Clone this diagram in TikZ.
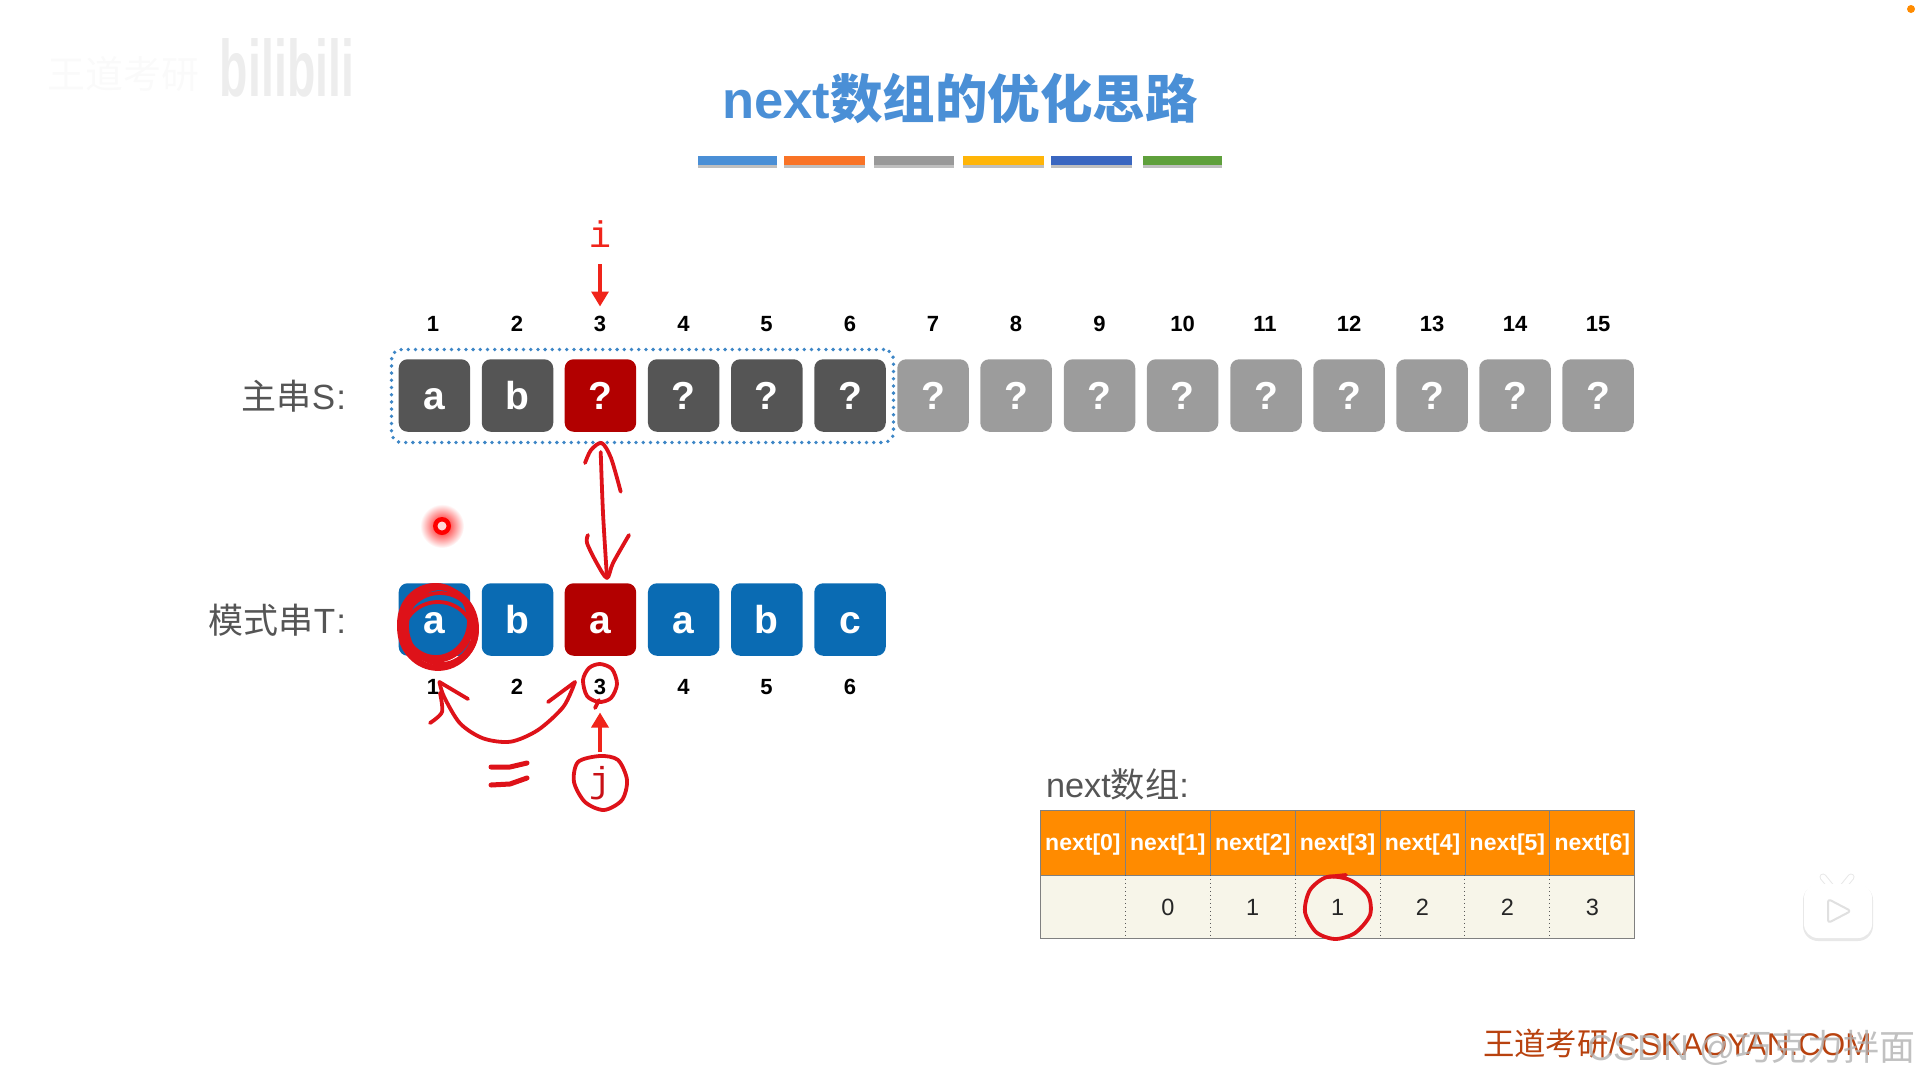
\documentclass[tikz,border=0pt]{standalone}
\usepackage{fontspec}
\setmainfont{Liberation Sans}
\newfontfamily\cjk{Noto Sans CJK SC}
\newfontfamily\typewr{Liberation Mono}
\usetikzlibrary{arrows.meta,positioning}
\definecolor{inkred}{HTML}{DE1219}
\definecolor{ptred}{HTML}{F0241A}
\definecolor{boxdark}{HTML}{555555}
\definecolor{boxgray}{HTML}{9C9C9C}
\definecolor{boxred}{HTML}{B20000}
\definecolor{boxblue}{HTML}{0A6BB3}
\definecolor{titleblue}{HTML}{4A8FD6}
\definecolor{dotblue}{HTML}{3D86C6}
\definecolor{headorange}{HTML}{FF8B00}
\definecolor{cellcream}{HTML}{F7F5E9}
\definecolor{labelgray}{HTML}{555555}
\definecolor{barorange}{HTML}{F97326}
\definecolor{bargray}{HTML}{999999}
\definecolor{baryellow}{HTML}{FFB508}
\definecolor{barblue}{HTML}{3A66C0}
\definecolor{bargreen}{HTML}{5FA03C}
\definecolor{sitebrown}{HTML}{B8420F}

\begin{document}
\begin{tikzpicture}[x=1pt, y=-1pt,
  every node/.style={inner sep=0pt, outer sep=0pt},
  cell/.style={rectangle, rounded corners=9pt, minimum width=71.5pt, minimum height=72.5pt,
    text=white, text height=28pt, text depth=0pt, font=\fontsize{39}{39}\selectfont\bfseries},
  sdark/.style={cell, fill=boxdark},
  sgray/.style={cell, fill=boxgray},
  cured/.style={cell, fill=boxred},
  tblue/.style={cell, fill=boxblue},
  num/.style={text=black, text height=17pt, text depth=0pt, font=\fontsize{22}{22}\selectfont\bfseries},
  rowlabel/.style={anchor=east, text=labelgray, font=\fontsize{35}{35}\selectfont},
  bar/.style={rectangle, minimum height=9.5pt},
  head/.style={rectangle, draw=black!50, line width=0.8pt, fill=headorange, minimum width=84.9pt, minimum height=64.3pt,
    text=white, text height=16pt, text depth=0pt, font=\fontsize{23}{23}\selectfont\bfseries},
  val/.style={rectangle, fill=cellcream, minimum width=84.9pt, minimum height=63.3pt,
    text=black!85, text height=17pt, text depth=0pt, font=\fontsize{23.5}{23.5}\selectfont},
  ink/.style={draw=inkred, line width=3.8pt, line cap=round, line join=round},
  ptr/.style={draw=ptred, line width=3.4pt, -{Triangle[width=17pt,length=15pt]}},
  sep/.style={draw=black!65, line width=1pt, dash pattern=on 1.5pt off 2.5pt}]
\useasboundingbox (0,0) rectangle (1919,1079);
% faint marks on top
\node[text=black!2, font=\fontsize{38}{38}\selectfont\cjk] (mark) at (123,74) {王道考研};
\node[text=black!7, xscale=0.58, transform shape, font=\fontsize{80}{80}\selectfont\bfseries] (bili) at (287,68) {bilibili};
\fill[headorange] (1911,9) circle (4);
% title
\node[text=titleblue, font=\fontsize{52.5}{52.5}\selectfont\bfseries] (title) at (960,99) {next{\cjk 数组的优化思路}};
\fill[black!25] (698,158) rectangle (777,168); \fill[black!25] (784,158) rectangle (865,168);
\fill[black!25] (874,158) rectangle (954,168); \fill[black!25] (963,158) rectangle (1044,168);
\fill[black!25] (1051,158) rectangle (1132,168); \fill[black!25] (1143,158) rectangle (1222,168);
\node[bar, fill=titleblue, minimum width=79pt] (b1) at (737.5,160.5) {};
\node[bar, fill=barorange, minimum width=81pt] (b2) at (824.5,160.5) {};
\node[bar, fill=bargray, minimum width=80pt] (b3) at (914,160.5) {};
\node[bar, fill=baryellow, minimum width=81pt] (b4) at (1003.5,160.5) {};
\node[bar, fill=barblue, minimum width=81pt] (b5) at (1091.5,160.5) {};
\node[bar, fill=bargreen, minimum width=79pt] (b6) at (1182.5,160.5) {};
% main string
\node[rowlabel] (slabel) at (346,396) {{\cjk 主串}S\kern1pt:};
\node[sdark] (s1) at (434.4,395.5) {a};   \node[sdark] (s2) at (517.5,395.5) {b};
\node[cured] (s3) at (600.4,395.5) {?};   \node[sdark] (s4) at (683.7,395.5) {?};
\node[sdark] (s5) at (766.8,395.5) {?};   \node[sdark] (s6) at (850,395.5) {?};
\node[sgray] (s7) at (933,395.5) {?};     \node[sgray] (s8) at (1016,395.5) {?};
\node[sgray] (s9) at (1099.5,395.5) {?};  \node[sgray] (s10) at (1182.6,395.5) {?};
\node[sgray] (s11) at (1266,395.5) {?};   \node[sgray] (s12) at (1349,395.5) {?};
\node[sgray] (s13) at (1432,395.5) {?};   \node[sgray] (s14) at (1515,395.5) {?};
\node[sgray] (s15) at (1598,395.5) {?};
\node[num] (n1) at (433,323) {1};     \node[num] (n2) at (517,323) {2};
\node[num] (n3) at (600,323) {3};     \node[num] (n4) at (683.5,323) {4};
\node[num] (n5) at (766.5,323) {5};   \node[num] (n6) at (850,323) {6};
\node[num] (n7) at (933,323) {7};     \node[num] (n8) at (1016,323) {8};
\node[num] (n9) at (1099.5,323) {9};  \node[num] (n10) at (1182.6,323) {10};
\node[num] (n11) at (1265,323) {11};  \node[num] (n12) at (1349,323) {12};
\node[num] (n13) at (1432,323) {13};  \node[num] (n14) at (1515,323) {14};
\node[num] (n15) at (1598,323) {15};
\node[rectangle, rounded corners=10pt, draw=dotblue, line width=3.8pt, line cap=round,
  dash pattern=on 0pt off 7.2pt, minimum width=502pt, minimum height=93pt] (window) at (642.5,396) {};
\node[text=ptred, font=\fontsize{37}{37}\selectfont\typewr] (i) at (600,234) {i};
\draw[ptr, shorten <=17pt, shorten >=8pt] (i) -- (n3);
% pattern string
\node[rowlabel] (tlabel) at (346,620) {{\cjk 模式串}T\kern1pt:};
\node[tblue] (t1) at (434.4,619.5) {a};  \node[tblue] (t2) at (517.5,619.5) {b};
\node[cured] (t3) at (600.4,619.5) {a};  \node[tblue] (t4) at (683.7,619.5) {a};
\node[tblue] (t5) at (766.8,619.5) {b};  \node[tblue] (t6) at (850,619.5) {c};
\node[num] (m1) at (433,686) {1};    \node[num] (m2) at (517,686) {2};
\node[num] (m3) at (600,686) {3};    \node[num] (m4) at (683.5,686) {4};
\node[num] (m5) at (766.5,686) {5};  \node[num] (m6) at (850,686) {6};
\node[text=inkred!90!black, font=\fontsize{36}{36}\selectfont\typewr] (j) at (600,783) {j};
\draw[ptr, shorten <=14pt, shorten >=18pt] (j) -- (m3);
% next array
\node[anchor=west, text=labelgray, font=\fontsize{34.3}{34.3}\selectfont] (nlabel) at (1046,784) {next{\cjk 数组}:};
\node[head] (h0) at (1082.9,842.9) {next[0]};  \node[head] (h1) at (1167.8,842.9) {next[1]};
\node[head] (h2) at (1252.7,842.9) {next[2]};  \node[head] (h3) at (1337.6,842.9) {next[3]};
\node[head] (h4) at (1422.5,842.9) {next[4]};  \node[head] (h5) at (1507.4,842.9) {next[5]};
\node[head] (h6) at (1592.3,842.9) {next[6]};
\node[val] (v0) at (1082.9,906.6) {};   \node[val] (v1) at (1167.8,906.6) {0};
\node[val] (v2) at (1252.7,906.6) {1};  \node[val] (v3) at (1337.6,906.6) {1};
\node[val] (v4) at (1422.5,906.6) {2};  \node[val] (v5) at (1507.4,906.6) {2};
\node[val] (v6) at (1592.3,906.6) {3};
\draw[draw=black!50, line width=0.8pt] (v0.north west) rectangle (v6.south east);
\draw[sep] (v0.north east) -- (v0.south east);  \draw[sep] (v1.north east) -- (v1.south east);
\draw[sep] (v2.north east) -- (v2.south east);  \draw[sep] (v3.north east) -- (v3.south east);
\draw[sep] (v4.north east) -- (v4.south east);  \draw[sep] (v5.north east) -- (v5.south east);
% handwriting
\coordinate (uptip) at (601.7,443);   \coordinate (downtip) at (607,578);
\coordinate (onetip) at (439.4,682);  \coordinate (threetip) at (575,682);
\draw[ink] plot[smooth] coordinates {(600.7,452) (603,513) (downtip)};
\draw[ink] plot[smooth] coordinates {(585,463) (591,450) (uptip) (611,458) (620.7,491.7)};
\draw[ink] plot[smooth] coordinates {(588,535) (587,543) (596.7,563) (downtip) (613,563) (629,535)};
\draw[ink] (435,623) ellipse (36 and 38);  \draw[ink] (439,628) ellipse (36 and 40);
\draw[ink] (437,624) ellipse (35 and 36);  \draw[ink] (440,630) ellipse (37 and 37);
\draw[ink] (436,621) ellipse (33 and 36);  \draw[ink] (438,635) ellipse (35 and 33);
\draw[ink] (438,628) ellipse (39 and 41);  \draw[ink] (441,626) ellipse (34 and 38);
\draw[ink] plot[smooth cycle] coordinates {(600,664) (612,669) (617,684) (611,698) (599,702) (587,696) (583,680) (589,668)};
\draw[ink] (599,700) -- (595,708);
\draw[ink] plot[smooth] coordinates {(threetip) (563.4,706.7) (538,730) (510.6,741.7) (483,738.3) (460,723.3) (444,696.7) (onetip)};
\draw[ink] (onetip) -- (468,699);
\draw[ink] plot[smooth] coordinates {(440,693) (442,712) (430,723)};
\draw[ink] (threetip) -- (548,702);
\draw[ink, line width=5pt] (491,767) -- (510,767) -- (527,763);
\draw[ink, line width=5pt] (491,785) -- (510,784) -- (527,778);
\draw[ink] plot[smooth cycle] coordinates {(600,756) (618,760) (627,780) (622,800) (604,810) (585,802) (574,782) (578,762)};
\draw[ink] plot[smooth cycle] coordinates {(1327,877) (1350,880) (1368,895) (1370,915) (1355,933) (1335,939) (1316,932) (1305,912) (1310,890)};
\draw[ink] (1327,877) -- (1346,875);
% laser dot
\shade[inner color=red, outer color=white] (442,526) circle (22);
\fill[red] (442,526) circle (9);
\fill[white!85!red] (442,526) circle (4.5);
% video logo
\draw[black!9, line width=7pt, line cap=round] (1823,877) -- (1832,888); \draw[black!9, line width=7pt, line cap=round] (1851,877) -- (1842,888);
\draw[white, line width=5pt, line cap=round] (1823,877) -- (1832,888); \draw[white, line width=5pt, line cap=round] (1851,877) -- (1842,888);
\fill[black!9, rounded corners=15pt] (1803,885) rectangle (1873,941);
\fill[white, rounded corners=14pt] (1804,884) rectangle (1872,938);
\draw[black!12, line width=2pt, line join=round, rounded corners=3pt] (1828,899) -- (1851,911) -- (1828,923) -- cycle;
% corner text
\node[anchor=west, text=sitebrown, font=\fontsize{31.4}{31.4}\selectfont] (site) at (1483,1044) {{\cjk 王道考研}/CSKAOYAN.COM};
\node[anchor=west, text=black!30, opacity=0.8, font=\fontsize{36}{36}\selectfont] (csdn) at (1587,1048) {CSDN @{\cjk 巧克力拌面}};
\end{tikzpicture}
\end{document}
